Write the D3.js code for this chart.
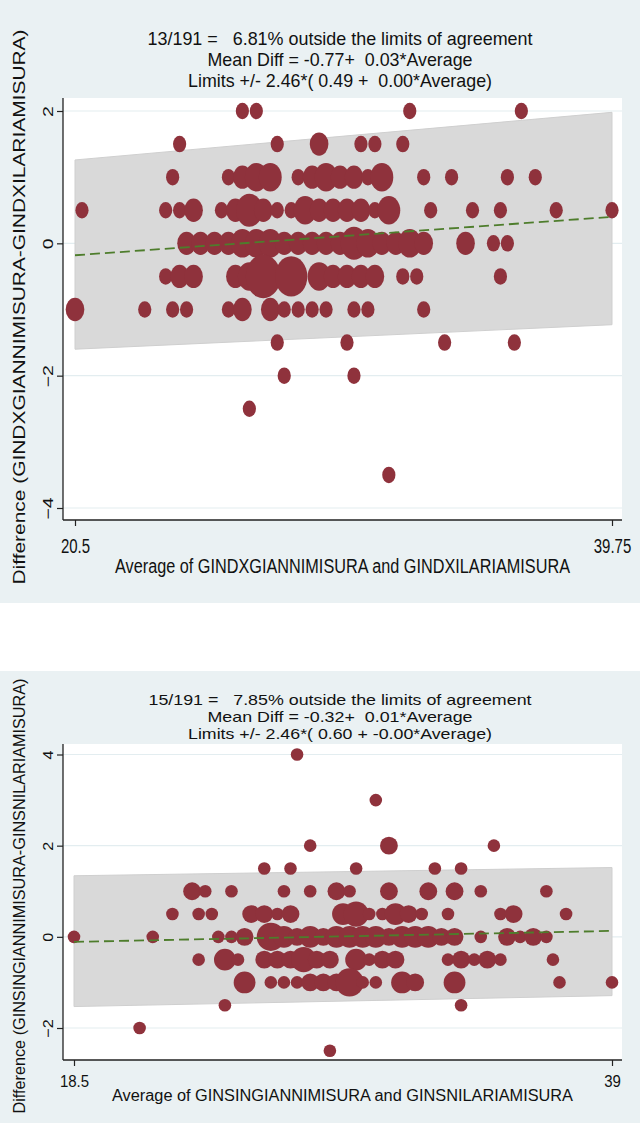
<!DOCTYPE html>
<html><head><meta charset="utf-8">
<script src="https://cdn.jsdelivr.net/npm/d3@7"></script>
<style>
body{margin:0;background:#fff}
svg text{font-family:"Liberation Sans",Arial,sans-serif;fill:#111;white-space:pre}
</style>
</head><body>
<svg id="chart" width="640" height="1123"></svg>
<script>
// ---------- DATA : top panel ----------
const topTitle = ["13/191 =   6.81% outside the limits of agreement",
                  "Mean Diff = -0.77+  0.03*Average",
                  "Limits +/- 2.46*( 0.49 +  0.00*Average)"];
const topXLabel = "Average of GINDXGIANNIMISURA and GINDXILARIAMISURA";
const topYLabel = "Difference (GINDXGIANNIMISURA-GINDXILARIAMISURA)";
const topXTicks = [20.5, 39.75];
const topXTickLabels = ["20.5", "39.75"];
const topYTicks = [2, 0, -2, -4];
const topBandAvg = [20.5, 39.75];
const topUpper = [1.26, 1.98];
const topLower = [-1.60, -1.23];
const topMean = [-0.18, 0.40];
// [average, difference, frequency]
const topPoints = [
 [26.5,2,1],[27,2,1],[32.5,2,1],[36.5,2,1],
 [24.25,1.5,1],[27.75,1.5,1],[29.25,1.5,2],[30.75,1.5,1],[31.25,1.5,1],[32.25,1.5,1],
 [24,1,1],[26,1,1],[26.5,1,2],[27,1,3],[27.5,1,3],[28.5,1,1],[29,1,2],[29.5,1,3],[30,1,2],[30.5,1,2],[31,1,1],[31.5,1,3],[33,1,1],[34,1,1],[36,1,1],[37,1,1],
 [20.75,0.5,1],[23.75,0.5,1],[24.25,0.5,1],[24.75,0.5,2],[25.75,0.5,1],[26.25,0.5,2],[26.75,0.5,4],[27.25,0.5,2],[27.75,0.5,1],[28.25,0.5,1],[28.75,0.5,3],[29.25,0.5,2],[29.75,0.5,2],[30.25,0.5,2],[30.75,0.5,2],[31.25,0.5,1],[31.75,0.5,3],[33.25,0.5,1],[34.75,0.5,1],[35.75,0.5,1],[37.75,0.5,1],[39.75,0.5,1],
 [24.5,0,2],[25,0,2],[25.5,0,2],[26,0,2],[26.5,0,3],[27,0,3],[27.5,0,3],[28,0,2],[28.5,0,2],[29,0,2],[29.5,0,2],[30,0,2],[30.5,0,4],[31,0,3],[31.5,0,2],[32,0,2],[32.5,0,3],[33,0,2],[34.5,0,2],[35.5,0,1],[36,0,1],
 [23.75,-0.5,1],[24.25,-0.5,2],[24.75,-0.5,2],[26.25,-0.5,2],[26.75,-0.5,3],[27.25,-0.5,7],[28.25,-0.5,6],[29.25,-0.5,3],[29.75,-0.5,2],[30.25,-0.5,2],[30.75,-0.5,2],[31.25,-0.5,2],[32.25,-0.5,1],[32.75,-0.5,1],[35.75,-0.5,1],
 [20.5,-1,2],[23,-1,1],[24,-1,1],[24.5,-1,1],[26,-1,1],[26.5,-1,2],[27.5,-1,2],[28,-1,1],[28.5,-1,1],[29,-1,1],[29.5,-1,1],[30.5,-1,1],[31,-1,1],[33,-1,1],
 [27.75,-1.5,1],[30.25,-1.5,1],[33.75,-1.5,1],[36.25,-1.5,1],
 [28,-2,1],[30.5,-2,1],[26.75,-2.5,1],[31.75,-3.5,1]
];

// ---------- DATA : bottom panel ----------
const botTitle = ["15/191 =   7.85% outside the limits of agreement",
                  "Mean Diff = -0.32+  0.01*Average",
                  "Limits +/- 2.46*( 0.60 + -0.00*Average)"];
const botXLabel = "Average of GINSINGIANNIMISURA and GINSNILARIAMISURA";
const botYLabel = "Difference (GINSINGIANNIMISURA-GINSNILARIAMISURA)";
const botXTicks = [18.5, 39];
const botXTickLabels = ["18.5", "39"];
const botYTicks = [4, 2, 0, -2];
const botBandAvg = [18.5, 39];
const botUpper = [1.34, 1.52];
const botLower = [-1.53, -1.29];
const botMean = [-0.11, 0.13];
const botPoints = [
 [27,4,1],[30,3,1],
 [27.5,2,1],[30.5,2,2],[34.5,2,1],
 [25.75,1.5,1],[26.75,1.5,1],[29.25,1.5,1],[32.25,1.5,1],[33.25,1.5,1],
 [23,1,2],[23.5,1,1],[24.5,1,1],[26.5,1,1],[27.5,1,1],[28.5,1,2],[29,1,1],[30.5,1,2],[32,1,2],[33,1,2],[34,1,1],[36.5,1,1],
 [22.25,0.5,1],[23.25,0.5,1],[23.75,0.5,1],[25.25,0.5,2],[25.75,0.5,2],[26.25,0.5,1],[26.75,0.5,2],[28.75,0.5,3],[29.25,0.5,4],[29.75,0.5,1],[30.25,0.5,1],[30.75,0.5,3],[31.25,0.5,2],[31.75,0.5,1],[32.75,0.5,1],[34.75,0.5,1],[35.25,0.5,2],[37.25,0.5,1],
 [18.5,0,1],[21.5,0,1],[24,0,1],[24.5,0,1],[25,0,2],[26,0,5],[26.5,0,3],[27,0,2],[27.5,0,3],[28,0,2],[28.5,0,3],[29,0,3],[29.5,0,3],[30,0,3],[30.5,0,2],[31,0,3],[31.5,0,3],[32,0,3],[32.5,0,2],[33,0,2],[34,0,1],[35,0,2],[35.5,0,1],[36,0,2],[36.5,0,1],
 [23.25,-0.5,1],[24.25,-0.5,3],[24.75,-0.5,1],[25.75,-0.5,2],[26.25,-0.5,2],[26.75,-0.5,2],[27.25,-0.5,4],[27.75,-0.5,2],[28.25,-0.5,2],[29.25,-0.5,3],[29.75,-0.5,1],[30.25,-0.5,2],[30.75,-0.5,2],[32.75,-0.5,1],[33.25,-0.5,2],[33.75,-0.5,1],[34.25,-0.5,2],[34.75,-0.5,1],[36.75,-0.5,1],
 [25,-1,3],[26,-1,1],[26.5,-1,1],[27,-1,1],[27.5,-1,2],[28,-1,2],[28.5,-1,2],[29,-1,5],[29.5,-1,1],[30,-1,1],[31,-1,3],[31.5,-1,2],[33,-1,3],[37,-1,1],[39,-1,1],
 [24.25,-1.5,1],[33.25,-1.5,1],[21,-2,1],[28.25,-2.5,1]
];

// ---------- drawing ----------
const svg = d3.select("#chart");
const BG = "#eaf1f3", GRID = "#e3edf0", MARK = "#8f323c", BAND = "#d9d9d9", LINE = "#4e7d2c";

function panel(cfg) {
  const g = svg.append("g");
  g.append("rect").attr("x", 0).attr("y", cfg.bg[0]).attr("width", 640).attr("height", cfg.bg[1] - cfg.bg[0]).attr("fill", BG);
  const P = cfg.plot;
  g.append("rect").attr("x", P.x0).attr("y", P.y0).attr("width", P.x1 - P.x0).attr("height", P.y1 - P.y0).attr("fill", "#fff");

  const x = d3.scaleLinear().domain(d3.extent(cfg.xTicks)).range(cfg.xRange);
  const y = d3.scaleLinear().domain(cfg.yDomain).range(cfg.yRange);

  g.selectAll(".grid").data(cfg.yTicks).join("line")
    .attr("x1", P.x0).attr("x2", P.x1).attr("y1", d => y(d)).attr("y2", d => y(d))
    .attr("stroke", GRID).attr("stroke-width", 1.2);

  const band = [[cfg.bandAvg[0], cfg.upper[0]], [cfg.bandAvg[1], cfg.upper[1]],
                [cfg.bandAvg[1], cfg.lower[1]], [cfg.bandAvg[0], cfg.lower[0]]];
  g.append("polygon").attr("points", band.map(d => [x(d[0]), y(d[1])].join(",")).join(" "))
    .attr("fill", BAND).attr("stroke", "#cfcfcf").attr("stroke-width", 1);

  g.selectAll(".pt").data(cfg.points).join("ellipse")
    .attr("cx", d => x(d[0])).attr("cy", d => y(d[1]))
    .attr("rx", d => cfg.k * Math.sqrt(d[2])).attr("ry", d => cfg.k * Math.sqrt(d[2]) * cfg.ryf)
    .attr("fill", MARK);

  const ml = d3.line().x(d => x(d[0])).y(d => y(d[1]));
  g.append("path").attr("d", ml(cfg.bandAvg.map((a, i) => [a, cfg.mean[i]])))
    .attr("fill", "none").attr("stroke", LINE).attr("stroke-width", 1.8).attr("stroke-dasharray", "10,5");

  const ya = g.append("g").attr("transform", `translate(${P.x0},0)`)
    .call(d3.axisLeft(y).tickValues(cfg.yTicks).tickSize(6).tickSizeOuter(0).tickFormat(d3.format("d")));
  ya.select(".domain").remove();
  ya.selectAll(".tick line").attr("stroke", "#222").attr("stroke-width", 1.2);
  ya.selectAll(".tick text").attr("x", null).attr("dy", null).attr("text-anchor", "middle")
    .attr("font-size", cfg.tickFont).attr("fill", "#111")
    .attr("transform", `translate(${cfg.yTickX - P.x0},0) scale(1,${cfg.sy}) rotate(-90)`);
  g.append("line").attr("x1", P.x0).attr("x2", P.x0).attr("y1", P.y0).attr("y2", P.y1).attr("stroke", "#222").attr("stroke-width", 1.3);

  const xa = g.append("g").attr("transform", `translate(0,${P.y1})`)
    .call(d3.axisBottom(x).tickValues(cfg.xTicks).tickSize(6).tickSizeOuter(0).tickFormat((d, i) => cfg.xTickLabels[i]));
  xa.select(".domain").remove();
  xa.selectAll(".tick line").attr("stroke", "#222").attr("stroke-width", 1.2);
  xa.selectAll(".tick text").attr("y", null).attr("dy", null).attr("text-anchor", "middle")
    .attr("font-size", cfg.tickFont).attr("fill", "#111")
    .attr("transform", `translate(0,${cfg.xTickBase - P.y1}) scale(1,${cfg.sy})`);
  g.append("line").attr("x1", P.x0).attr("x2", P.x1).attr("y1", P.y1).attr("y2", P.y1).attr("stroke", "#222").attr("stroke-width", 1.3);

  cfg.title.forEach((t, i) => {
    g.append("g").attr("transform", `translate(${cfg.titleX},${cfg.titleBase[i]}) scale(1,${cfg.tsy})`)
      .append("text").attr("text-anchor", "middle").attr("font-size", cfg.titleFont)
      .attr("xml:space", "preserve")
      .attr("textLength", cfg.titleW[i]).attr("lengthAdjust", "spacingAndGlyphs").text(t);
  });
  g.append("g").attr("transform", `translate(${(P.x0 + P.x1) / 2},${cfg.xLabelBase}) scale(1,${cfg.sy})`)
    .append("text").attr("text-anchor", "middle").attr("font-size", cfg.labelFont)
    .attr("textLength", cfg.xLabelW).attr("lengthAdjust", "spacingAndGlyphs").text(cfg.xLabel);
  g.append("g").attr("transform", `translate(${cfg.yLabelX},${cfg.yLabelC}) rotate(-90)`)
    .append("text").attr("text-anchor", "middle").attr("font-size", cfg.labelFont)
    .attr("textLength", cfg.yLabelLen).attr("lengthAdjust", "spacingAndGlyphs").text(cfg.yLabel);
}

panel({
  bg: [0, 603], plot: {x0: 63, x1: 622, y0: 98, y1: 520},
  xTicks: topXTicks, xTickLabels: topXTickLabels, yTicks: topYTicks,
  xRange: [75, 612], yDomain: [-4, 2], yRange: [508, 111],
  bandAvg: topBandAvg, upper: topUpper, lower: topLower, mean: topMean,
  points: topPoints, k: 6.6, ryf: 1.25, sy: 1.3, tsy: 1.22,
  tickFont: 15, yTickX: 53, xTickBase: 553,
  title: topTitle, titleX: 340, titleBase: [45, 66, 87], titleW: [385, 265, 304], titleFont: 15,
  xLabel: topXLabel, xLabelBase: 573, xLabelW: 455, labelFont: 16,
  yLabel: topYLabel, yLabelX: 25, yLabelC: 307, yLabelLen: 555
});

panel({
  bg: [671, 1123], plot: {x0: 63, x1: 622, y0: 744, y1: 1060},
  xTicks: botXTicks, xTickLabels: botXTickLabels, yTicks: botYTicks,
  xRange: [74, 612], yDomain: [-2, 4], yRange: [1028, 754.5],
  bandAvg: botBandAvg, upper: botUpper, lower: botLower, mean: botMean,
  points: botPoints, k: 6.3, ryf: 1.0, sy: 1.08, tsy: 1.0,
  tickFont: 15, yTickX: 53, xTickBase: 1087,
  title: botTitle, titleX: 340, titleBase: [705, 722, 739], titleW: [383, 265, 304], titleFont: 14.8,
  xLabel: botXLabel, xLabelBase: 1101, xLabelW: 461, labelFont: 16,
  yLabel: botYLabel, yLabelX: 25, yLabelC: 896, yLabelLen: 435
});
</script>
</body></html>
